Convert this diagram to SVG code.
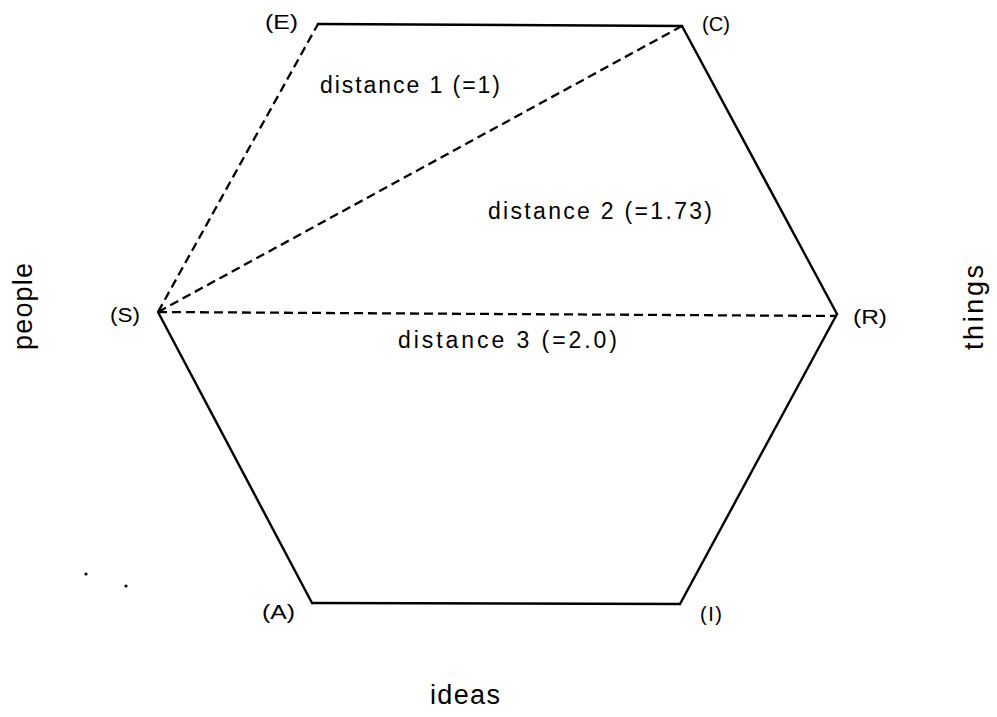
<svg xmlns="http://www.w3.org/2000/svg" width="997" height="717" viewBox="0 0 997 717">
<style>
.edge{stroke:#000;stroke-width:2.4;fill:none;stroke-linecap:round;stroke-linejoin:round}
.dash{stroke:#000;stroke-width:2.3;fill:none;stroke-dasharray:9 5}
.lbl{font-family:"Liberation Sans",Arial,sans-serif;font-size:20px;fill:#000}
.dist{font-family:"Liberation Sans",Arial,sans-serif;font-size:23px;fill:#000}
.axis{font-family:"Liberation Sans",Arial,sans-serif;font-size:27px;fill:#000}
</style>
<rect width="997" height="717" fill="#fff"/>
<g id="connectors">
<path class="edge" d="M318,24 L682,26"/>
<path class="edge" d="M682,26 L837,314"/>
<path class="edge" d="M837,314 L680,604"/>
<path class="edge" d="M680,604 L312,603"/>
<path class="edge" d="M312,603 L158,312"/>
<path class="dash" d="M158,312 L318,24"/>
<path class="dash" d="M158,312 L682,26"/>
<path class="dash" d="M158,312 L837,316"/>
</g>
<g id="node-E"><text class="lbl" x="265" y="29" textLength="33" lengthAdjust="spacingAndGlyphs">(E)</text></g>
<g id="node-C"><text class="lbl" x="702" y="31" textLength="28" lengthAdjust="spacingAndGlyphs">(C)</text></g>
<g id="node-S"><text class="lbl" x="110" y="322" textLength="30" lengthAdjust="spacingAndGlyphs">(S)</text></g>
<g id="node-R"><text class="lbl" x="853" y="324" textLength="34" lengthAdjust="spacingAndGlyphs">(R)</text></g>
<g id="node-A"><text class="lbl" x="262" y="619" textLength="33" lengthAdjust="spacingAndGlyphs">(A)</text></g>
<g id="node-I"><text class="lbl" x="700" y="621" textLength="22" lengthAdjust="spacing">(I)</text></g>
<g id="labels">
<text class="dist" x="320" y="93" textLength="180" lengthAdjust="spacing">distance 1 (=1)</text>
<text class="dist" x="488" y="219" textLength="224" lengthAdjust="spacing">distance 2 (=1.73)</text>
<text class="dist" x="398" y="348" textLength="219" lengthAdjust="spacing">distance 3 (=2.0)</text>
<text class="axis" transform="translate(32,350) rotate(-90)" textLength="87" lengthAdjust="spacing">people</text>
<text class="axis" transform="translate(983,350) rotate(-90)" textLength="85" lengthAdjust="spacing">things</text>
<text class="axis" x="430" y="704" textLength="70" lengthAdjust="spacing">ideas</text>
</g>
<circle cx="86" cy="574" r="1.6" fill="#000"/>
<circle cx="126" cy="586" r="1.6" fill="#000"/>
</svg>
